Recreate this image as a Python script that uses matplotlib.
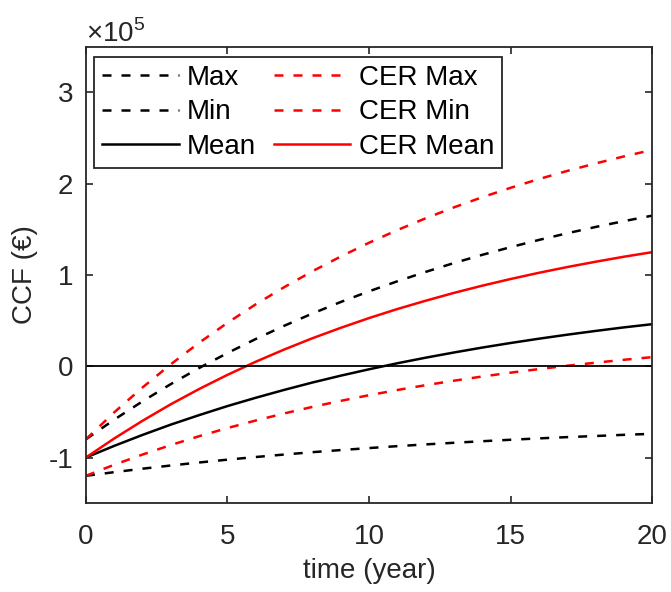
import matplotlib
matplotlib.use("Agg")
import matplotlib.pyplot as plt
import numpy as np

# values, in units of 1e5 EUR
years = np.arange(0, 21)
max_ccf = [-0.800, -0.585, -0.384, -0.195, -0.019, 0.145, 0.299, 0.443,
           0.578, 0.704, 0.821, 0.931, 1.034, 1.131, 1.221, 1.305, 1.384,
           1.457, 1.526, 1.590, 1.650]
min_ccf = [-1.200, -1.160, -1.122, -1.087, -1.054, -1.023, -0.994, -0.967,
           -0.941, -0.918, -0.896, -0.875, -0.856, -0.838, -0.821, -0.805,
           -0.790, -0.776, -0.764, -0.751, -0.740]
mean_ccf = [-1.000, -0.872, -0.752, -0.639, -0.535, -0.436, -0.345, -0.259,
            -0.178, -0.103, -0.033, 0.033, 0.094, 0.151, 0.205, 0.255,
            0.302, 0.346, 0.387, 0.426, 0.461]
cer_max = [-0.800, -0.505, -0.232, 0.022, 0.258, 0.476, 0.679, 0.866,
           1.041, 1.202, 1.353, 1.492, 1.621, 1.741, 1.852, 1.955, 2.051,
           2.140, 2.222, 2.299, 2.370]
cer_min = [-1.200, -1.079, -0.967, -0.863, -0.766, -0.677, -0.594, -0.517,
           -0.445, -0.379, -0.317, -0.260, -0.207, -0.158, -0.112, -0.070,
           -0.031, 0.006, 0.039, 0.071, 0.100]
cer_mean = [-1.000, -0.791, -0.597, -0.416, -0.249, -0.094, 0.050, 0.183,
            0.307, 0.421, 0.528, 0.627, 0.718, 0.804, 0.883, 0.956, 1.024,
            1.087, 1.145, 1.200, 1.250]

plt.rcParams['font.family'] = ['Liberation Sans', 'DejaVu Sans']
plt.rcParams['mathtext.fontset'] = 'custom'
plt.rcParams['mathtext.rm'] = 'Liberation Sans'
plt.rcParams['axes.unicode_minus'] = False

fig = plt.figure(figsize=(6.71, 5.92), dpi=100)
ax = fig.add_axes([0.128, 0.150, 0.844, 0.771])

dash = (3.6, 4.0)
lw = 1.8
ax.plot(years, max_ccf, '--', color='k', lw=lw, dashes=dash, label='Max')
ax.plot(years, min_ccf, '--', color='k', lw=lw, dashes=dash, label='Min')
ax.plot(years, mean_ccf, '-', color='k', lw=lw, label='Mean')
ax.plot(years, cer_max, '--', color='r', lw=lw, dashes=dash, label='CER Max')
ax.plot(years, cer_min, '--', color='r', lw=lw, dashes=dash, label='CER Min')
ax.plot(years, cer_mean, '-', color='r', lw=lw, label='CER Mean')
ax.axhline(0, color='k', lw=1.3)

ax.set_xlim(0, 20)
ax.set_ylim(-1.5, 3.5)
ax.set_xticks([0, 5, 10, 15, 20])
ax.set_yticks([-1, 0, 1, 2, 3])
ax.tick_params(direction='in', length=5, width=1.2, top=True, right=True,
               labelsize=20, colors='#262626')
ax.tick_params(axis='x', pad=15)
ax.tick_params(axis='y', pad=9)
for s in ax.spines.values():
    s.set_color('#262626')
    s.set_linewidth(1.3)

ax.set_xlabel('time (year)', fontsize=20, color='#262626', labelpad=6)
ax.set_ylabel('CCF (€)', fontsize=20, color='#262626', labelpad=8)
ax.text(0.0, 0.998, r'$\times10^5$', transform=ax.transAxes, fontsize=20,
        color='#262626', ha='left', va='bottom')

leg = ax.legend(ncol=2, loc='upper left', bbox_to_anchor=(0.014, 0.978),
                borderaxespad=0, fontsize=20, handlelength=2.75,
                handletextpad=0.3, columnspacing=0.65, labelspacing=0.3,
                borderpad=0.3, fancybox=False, framealpha=1,
                edgecolor='#262626')
leg.get_frame().set_linewidth(1.3)

fig.savefig('out.png', dpi=100)
